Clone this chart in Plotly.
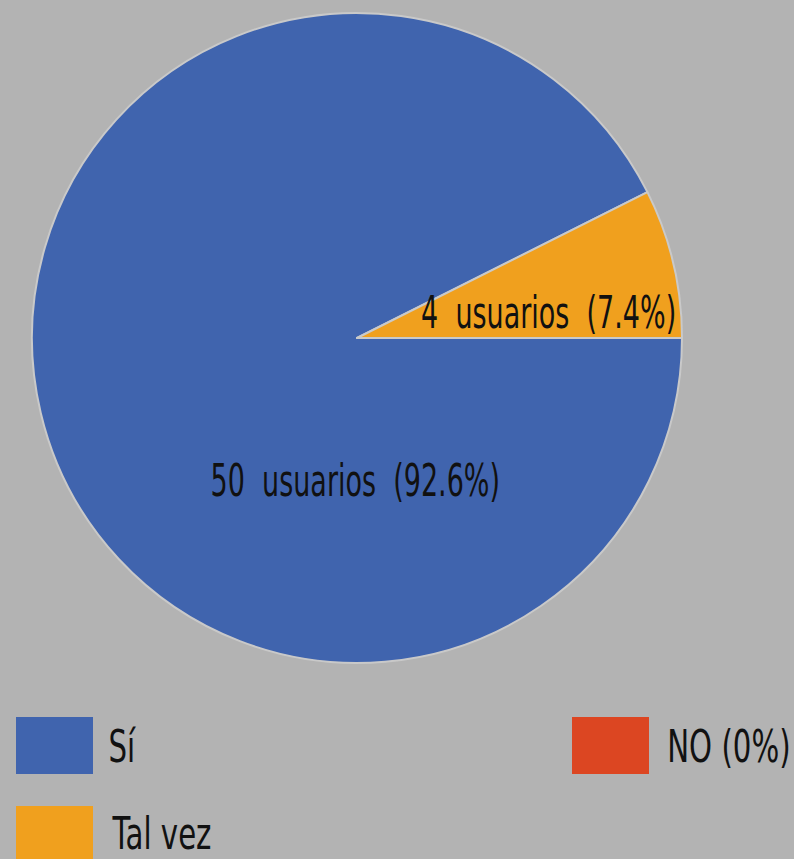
import math
import plotly.graph_objects as go

labels = ["Sí", "Tal vez", "NO"]
values = [50, 4, 0]
colors = ["#4064ae", "#f0a01e", "#dc4622"]
legend_labels = ["Sí", "Tal vez", "NO (0%)"]

total = sum(values)
W, H = 794, 859
FONT = "DejaVu Sans, sans-serif"
FS = 45
SX_PIE = 0.60   # horizontal squeeze to imitate the condensed typeface
SX_LEG = 0.65

cx, cy, R = 357, 338, 325
dom_x = [(cx - R) / W, (cx + R) / W]
dom_y = [1 - (cy + R) / H, 1 - (cy - R) / H]

fig = go.Figure(go.Pie(
    labels=labels, values=values, sort=False,
    direction="clockwise", rotation=90,
    marker=dict(colors=colors, line=dict(color="#c9c9c9", width=2)),
    textinfo="none", hoverinfo="label+value+percent",
    showlegend=False,
    domain=dict(x=dom_x, y=dom_y),
))

# label placement inside slices (radius fraction, angle in degrees ccw from east)
label_style = {"Tal vez": (0.596, 7.7), "Sí": (0.437, -90.8)}
annotations = []
for lab, v in zip(labels, values):
    if v > 0 and lab in label_style:
        rf, ang = label_style[lab]
        x = cx + rf * R * math.cos(math.radians(ang))
        y = cy - rf * R * math.sin(math.radians(ang))
        annotations.append(dict(
            x=x / W, y=1 - y / H, xref="paper", yref="paper",
            text=f"{v} usuarios ({100 * v / total:.1f}%)".replace(" ", "\u00a0\u00a0"),
            showarrow=False, font=dict(family=FONT, size=FS, color="#111111"),
            xanchor="center", yanchor="middle"))
n_pie = len(annotations)

# custom legend: box (x0, y0), text centre x, text centre y
leg_pos = {"Sí": (16, 717, 122, 746), "Tal vez": (16, 806, 161, 833),
           "NO (0%)": (572, 717, 729, 746)}
leg_col = {"Sí": colors[0], "Tal vez": colors[1], "NO (0%)": colors[2]}
shapes = []
for lab in legend_labels:
    x0, y0, tx, ty = leg_pos[lab]
    shapes.append(dict(type="rect", xref="paper", yref="paper",
                       x0=x0 / W, x1=(x0 + 77) / W,
                       y0=1 - y0 / H, y1=1 - (y0 + 57) / H,
                       fillcolor=leg_col[lab], line=dict(width=0)))
    annotations.append(dict(
        x=tx / W, y=1 - ty / H, xref="paper", yref="paper",
        text=lab, showarrow=False,
        font=dict(family=FONT, size=FS, color="#111111"),
        xanchor="center", yanchor="middle"))

fig.update_layout(
    width=W, height=H,
    margin=dict(l=0, r=0, t=0, b=0),
    paper_bgcolor="#b3b3b3", plot_bgcolor="#b3b3b3",
    shapes=shapes, annotations=annotations,
)
post = ("document.body.style.margin='0';"
        "document.body.style.background='#b3b3b3';"
        "document.querySelectorAll('g.annotation').forEach(function(g){"
        "var i=parseInt(g.getAttribute('data-index'));"
        "var s=(i<%d)?%s:%s;"
        "g.querySelectorAll('text.annotation-text').forEach(function(t){"
        "t.style.transformBox='fill-box';t.style.transformOrigin='center';"
        "t.style.transform='scaleX('+s+')';});});" % (n_pie, SX_PIE, SX_LEG))
fig.write_html("out.html", post_script=post, config={"displayModeBar": False})
